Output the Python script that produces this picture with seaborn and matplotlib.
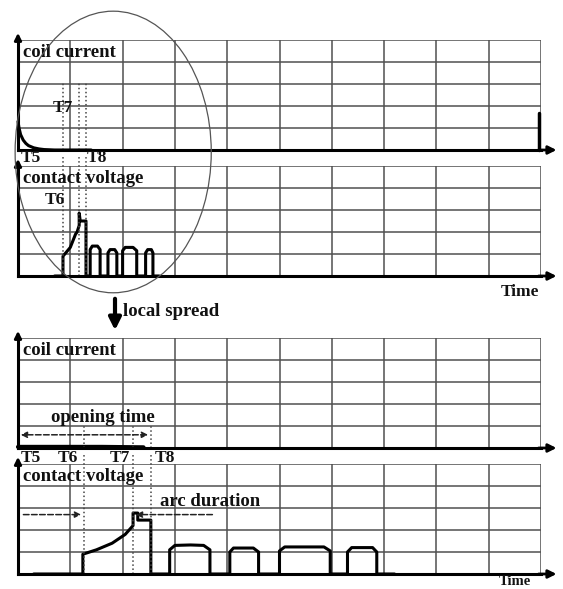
import matplotlib
matplotlib.use("Agg")
import matplotlib.pyplot as plt
import seaborn as sns
import pandas as pd
from matplotlib.patches import Ellipse

sns.set_style("white")
plt.rcParams['font.family'] = ['Liberation Serif', 'DejaVu Serif']

# ---------------- data ----------------
# top overview: coil current decay and final spike
coil_top_x = [0, 0.02, 0.05, 0.1, 0.15, 0.2, 0.3, 0.4, 0.5, 0.7, 1.0, 1.4]
coil_top_y = [1.3, 1.0, 0.7, 0.45, 0.3, 0.2, 0.1, 0.05, 0.02, 0.0, 0.0, 0.0]
coil_spike_x = [9.96, 9.96]
coil_spike_y = [0.0, 1.7]

# top overview: contact voltage
volt_top_x = [0.7, 0.86, 0.86, 1.0, 1.1, 1.13, 1.17, 1.17, 1.19, 1.30, 1.30,
              1.38, 1.38, 1.42, 1.52, 1.57, 1.57,
              1.72, 1.72, 1.76, 1.85, 1.89, 1.89,
              2.0, 2.0, 2.05, 2.2, 2.27, 2.27,
              2.44, 2.44, 2.48, 2.55, 2.58, 2.58, 2.7]
volt_top_y = [0, 0, 0.9, 1.3, 1.9, 2.0, 2.3, 2.86, 2.5, 2.5, 0,
              0, 1.2, 1.36, 1.36, 1.2, 0,
              0, 1.05, 1.2, 1.2, 1.05, 0,
              0, 1.15, 1.3, 1.3, 1.15, 0,
              0, 1.05, 1.2, 1.2, 1.05, 0, 0]
top_marks = [0.86, 1.17, 1.30]          # T6, T7, T8 (dotted)

# zoomed: coil current
coil_bot_x = [0.0, 1.6, 2.4]
coil_bot_y = [0.05, 0.05, 0.03]

# zoomed: contact voltage
volt_bot_x = [0.3, 1.24, 1.24, 1.5, 1.8, 2.05, 2.2, 2.2, 2.29, 2.29, 2.54, 2.54,
              2.9, 2.9, 3.0, 3.3, 3.55, 3.67, 3.67,
              4.05, 4.05, 4.12, 4.5, 4.6, 4.6,
              5.0, 5.0, 5.1, 5.85, 5.97, 5.97,
              6.3, 6.3, 6.38, 6.78, 6.86, 6.86, 7.2]
volt_bot_y = [0, 0, 0.9, 1.1, 1.4, 1.8, 2.2, 2.77, 2.77, 2.45, 2.45, 0,
              0, 1.1, 1.3, 1.32, 1.3, 1.1, 0,
              0, 1.0, 1.18, 1.18, 1.0, 0,
              0, 1.05, 1.23, 1.23, 1.05, 0,
              0, 1.0, 1.2, 1.2, 1.0, 0, 0]
bot_marks = [1.27, 2.2, 2.54]           # T6, T7, T8 (dotted)

# ---------------- figure ----------------
W, H = 563, 589
fig = plt.figure(figsize=(W / 100, H / 100), dpi=100)

def px_axes(top, bottom, left=18, right=541):
    return fig.add_axes([left / W, 1 - bottom / H, (right - left) / W, (bottom - top) / H])

ax1 = px_axes(40, 150)
ax2 = px_axes(166, 276)
ax3 = px_axes(338, 448)
ax4 = px_axes(464, 574)

BOLD = dict(fontweight='bold', color='#111111')

for ax in (ax1, ax2, ax3, ax4):
    ax.set_facecolor('none')
    ax.set_xlim(0, 10)
    ax.set_ylim(0, 5)
    ax.set_xticks(range(11))
    ax.set_yticks(range(6))
    ax.set_xticklabels([])
    ax.set_yticklabels([])
    ax.tick_params(length=0)
    ax.grid(True, color='#505050', lw=1.1)
    for s in ('top', 'right'):
        ax.spines[s].set_visible(False)
    for s in ('left', 'bottom'):
        ax.spines[s].set_color('black')
        ax.spines[s].set_linewidth(2.2)
    # axis arrows
    ax.annotate('', xy=(10.35, 0), xytext=(9.9, 0), annotation_clip=False,
                arrowprops=dict(arrowstyle='-|>', color='black', lw=2, mutation_scale=12))
    ax.annotate('', xy=(0, 5.45), xytext=(0, 4.9), annotation_clip=False,
                arrowprops=dict(arrowstyle='-|>', color='black', lw=2, mutation_scale=10))

def draw(ax, xs, ys, lw=2.2):
    df = pd.DataFrame({'x': xs, 'y': ys})
    sns.lineplot(data=df, x='x', y='y', ax=ax, sort=False, estimator=None,
                 color='black', lw=lw, clip_on=False)
    ax.set_xlabel('')
    ax.set_ylabel('')

draw(ax1, coil_top_x, coil_top_y)
draw(ax1, coil_spike_x, coil_spike_y, lw=2.5)
draw(ax2, volt_top_x, volt_top_y)
draw(ax3, coil_bot_x, coil_bot_y, lw=3)
draw(ax4, volt_bot_x, volt_bot_y)

# dotted markers
for x in top_marks:
    ax1.plot([x, x], [0, 3.1], ls=':', color='#444444', lw=1.1)
    ax2.plot([x, x], [0, 5.5], ls=':', color='#444444', lw=1.1, clip_on=False)
for x in bot_marks:
    ax3.plot([x, x], [0, 1.0], ls=':', color='#444444', lw=1.1)
    ax4.plot([x, x], [0, 5.4], ls=':', color='#444444', lw=1.1, clip_on=False)

FS = 13.5
ax1.text(0.1, 4.45, 'coil current', fontsize=FS, va='center', ha='left', **BOLD)
ax2.text(0.1, 4.45, 'contact voltage', fontsize=FS, va='center', ha='left', **BOLD)
ax3.text(0.1, 4.45, 'coil current', fontsize=FS, va='center', ha='left', **BOLD)
ax4.text(0.1, 4.45, 'contact voltage', fontsize=FS, va='center', ha='left', **BOLD)

# T labels (top)
ax1.text(0.85, 1.9, 'T7', fontsize=FS - 1, ha='center', va='center', **BOLD)
ax1.text(0.05, -0.38, 'T5', fontsize=FS - 1, ha='left', va='center', **BOLD)
ax1.text(1.5, -0.38, 'T8', fontsize=FS - 1, ha='center', va='center', **BOLD)
ax2.text(0.7, 3.45, 'T6', fontsize=FS - 1, ha='center', va='center', **BOLD)
ax2.text(9.6, -0.75, 'Time', fontsize=FS - 1, ha='center', va='center', **BOLD)

# T labels (bottom)
ax3.text(0.05, -0.45, 'T5', fontsize=FS - 1, ha='left', va='center', **BOLD)
for lab, x in zip(['T6', 'T7', 'T8'], [0.95, 1.95, 2.8]):
    ax3.text(x, -0.45, lab, fontsize=FS - 1, ha='center', va='center', **BOLD)
ax4.text(9.5, -0.04, 'Time', fontsize=10.5, ha='center', va='top', **BOLD)

# opening time arrow
ax3.annotate('', xy=(0.0, 0.6), xytext=(2.54, 0.6),
             arrowprops=dict(arrowstyle='<|-|>', ls='--', color='#222222', lw=1.1, mutation_scale=9))
ax3.text(1.63, 1.38, 'opening time', fontsize=FS, ha='center', va='center', **BOLD)

# arc duration arrows
ax4.annotate('', xy=(1.26, 2.7), xytext=(0.05, 2.7),
             arrowprops=dict(arrowstyle='-|>', ls='--', color='#222222', lw=1.1, mutation_scale=9))
ax4.annotate('', xy=(2.2, 2.7), xytext=(3.77, 2.7),
             arrowprops=dict(arrowstyle='-|>', ls='--', color='#222222', lw=1.1, mutation_scale=9))
ax4.text(3.67, 3.3, 'arc duration', fontsize=FS, ha='center', va='center', **BOLD)

# ellipse highlighting the switching region
ell = Ellipse((1.82, -0.09), 3.75, 12.8, transform=ax1.transData, fill=False,
              edgecolor='#555555', lw=0.9, zorder=5)
fig.add_artist(ell)

# local spread arrow and label
fig.text(123 / W, 1 - 311 / H, 'local spread', fontsize=FS, ha='left', va='center', **BOLD)
fig.add_artist(matplotlib.patches.FancyArrowPatch(
    (115 / W, 1 - 296 / H), (115 / W, 1 - 333 / H), transform=fig.transFigure,
    arrowstyle='-|>', mutation_scale=18, lw=3, color='black'))

fig.savefig('out.png', dpi=100)
